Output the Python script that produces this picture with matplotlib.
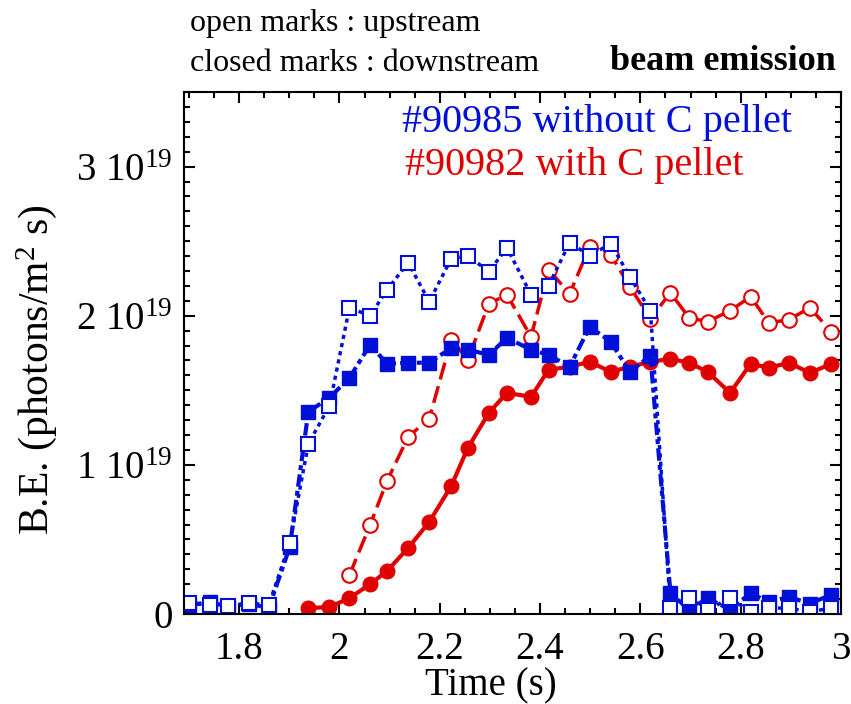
import matplotlib
matplotlib.use("Agg")
import matplotlib.pyplot as plt
from matplotlib.ticker import MultipleLocator, FuncFormatter

plt.rcParams['font.family'] = ['Liberation Serif', 'DejaVu Serif']
plt.rcParams['mathtext.default'] = 'regular'

# sample times (s)
t_blue = [1.700, 1.742, 1.777, 1.819, 1.859, 1.901, 1.938, 1.980, 2.020, 2.061,
          2.095, 2.137, 2.179, 2.223, 2.256, 2.298, 2.334, 2.382, 2.417, 2.459,
          2.499, 2.541, 2.579, 2.620, 2.660, 2.697, 2.734, 2.779, 2.820, 2.856,
          2.896, 2.938, 2.981]
t_red_down = t_blue[6:]
t_red_up = t_blue[8:]

# beam emission, units of 1e19 photons/m^2 s
be_90985_up = [0.074, 0.060, 0.054, 0.074, 0.060, 0.477, 1.141, 1.396, 2.054, 2.000,
               2.174, 2.356, 2.094, 2.383, 2.403, 2.295, 2.456, 2.141, 2.201, 2.490,
               2.403, 2.483, 2.262, 2.034, 0.040, 0.105, 0.030, 0.105, 0.015, 0.040,
               0.040, 0.015, 0.040]
be_90985_down = [0.06, 0.08, 0.05, 0.07, 0.04, 0.45, 1.356, 1.450, 1.584, 1.805,
                 1.678, 1.685, 1.685, 1.785, 1.772, 1.738, 1.852, 1.772, 1.738, 1.658,
                 1.926, 1.826, 1.624, 1.732, 0.14, 0.03, 0.105, 0.03, 0.14, 0.08,
                 0.115, 0.07, 0.13]
be_90982_up = [0.262, 0.597, 0.893, 1.188, 1.309, 1.839, 1.705, 2.081, 2.141, 1.859,
               2.309, 2.148, 2.463, 2.409, 2.195, 1.980, 2.154, 1.987, 1.960, 2.034,
               2.128, 1.953, 1.973, 2.054, 1.893]
be_90982_down = [0.040, 0.047, 0.107, 0.200, 0.289, 0.443, 0.617, 0.859, 1.114, 1.349,
                 1.483, 1.456, 1.638, 1.658, 1.691, 1.624, 1.658, 1.691, 1.711, 1.685,
                 1.624, 1.483, 1.678, 1.651, 1.685, 1.617, 1.678]

blue = '#0010d8'
red = '#e00000'
scale = 1e19

fig = plt.figure(figsize=(8.51, 7.04), dpi=100)
ax = fig.add_axes([0.2162, 0.1278, 0.7720, 0.7415])

ax.plot(t_red_down, [v * scale for v in be_90982_down], color=red, lw=3,
        marker='o', ms=10.5, mfc=red, mec=red)
ax.plot(t_red_up, [v * scale for v in be_90982_up], color=red, lw=2.5,
        dashes=(5, 2), marker='o', ms=10.5, mfc='white', mec=red, mew=1.5)
ax.plot(t_blue, [v * scale for v in be_90985_down], color=blue, lw=3,
        dashes=(3, 1, 1.2, 1), marker='s', ms=10.5, mfc=blue, mec=blue)
ax.plot(t_blue, [v * scale for v in be_90985_up], color=blue, lw=2.5,
        dashes=(1.2, 1.2), marker='s', ms=10.5, mfc='white', mec=blue, mew=1.5)

ax.set_xlim(1.69, 3.0)
ax.set_ylim(0, 3.5e19)
ax.xaxis.set_major_locator(MultipleLocator(0.2))
ax.xaxis.set_minor_locator(MultipleLocator(0.05))
ax.yaxis.set_major_locator(MultipleLocator(1e19))
ax.yaxis.set_minor_locator(MultipleLocator(0.1e19))
ax.xaxis.set_major_formatter(FuncFormatter(lambda v, p: '%g' % round(v, 2)))
ax.yaxis.set_major_formatter(FuncFormatter(
    lambda v, p: '0' if v == 0 else '%d 10$^{19}$' % round(v / 1e19)))
ax.tick_params(which='both', direction='in', top=True, right=True, width=1.5)
ax.tick_params(which='major', length=8, labelsize=28)
ax.tick_params(axis='x', which='major', pad=12)
ax.tick_params(axis='y', which='major', pad=8)
ax.tick_params(which='minor', length=4.5)
for s in ax.spines.values():
    s.set_linewidth(1.5)

ax.set_xlabel('Time (s)', fontsize=28)
ax.set_ylabel('B.E. (photons/m$^{2}$ s)', fontsize=30)
ax.xaxis.set_label_coords(0.467, -0.102)
ax.yaxis.set_label_coords(-0.19, 0.467)

ax.text(0.332, 0.9425, '#90985 without C pellet', color=blue, fontsize=29,
        transform=ax.transAxes, va='center')
ax.text(0.336, 0.860, '#90982 with C pellet', color=red, fontsize=29,
        transform=ax.transAxes, va='center')

fig.text(0.223, 0.966, 'open marks : upstream', fontsize=23, va='center')
fig.text(0.223, 0.910, 'closed marks : downstream', fontsize=23, va='center')
fig.text(0.982, 0.913, 'beam emission', fontsize=26, fontweight='bold',
         va='center', ha='right')

fig.savefig('out.png', dpi=100)
